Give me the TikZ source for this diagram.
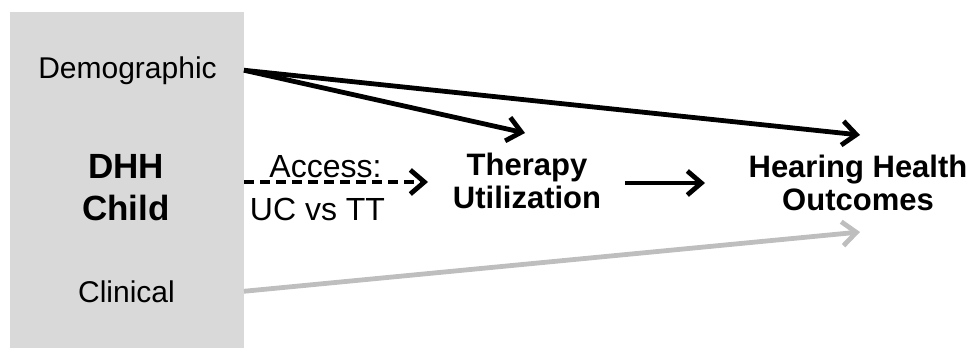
\documentclass[tikz,border=0pt]{standalone}
\usepackage{fontspec}
\setmainfont{Liberation Sans}
\usetikzlibrary{arrows.meta}
\usetikzlibrary{positioning}
\definecolor{boxgrey}{RGB}{217,217,217}
\definecolor{paleline}{RGB}{190,190,190}
\tikzstyle{base}=[inner sep=0pt, outer sep=0pt]
\tikzstyle{factor}=[font=\fontsize{15}{18}\selectfont, anchor=base]
\tikzstyle{route}=[font=\fontsize{16}{19}\selectfont, anchor=base]
\tikzstyle{core}=[font=\bfseries\fontsize{17.5}{21}\selectfont, align=center, anchor=base]
\tikzstyle{stage}=[font=\bfseries\fontsize{15.5}{16.5}\selectfont, align=center, anchor=base]
\tikzstyle{link}=[line width=2.4pt, -{Straight Barb[length=7pt,width=12pt,line width=2.4pt]}]

\begin{document}
\begin{tikzpicture}[base, x=0.5pt, y=-0.5pt]
    \useasboundingbox (0,0) rectangle (969,348);
        % child box and its factors
        \node [base, fill=boxgrey, minimum width=117pt, minimum height=168pt] (childbox) at (127,180) {};
        \node [factor] (demo) at (127.5,78) {Demographic};
        \node [core] (child) at (126,220) {DHH\\Child};
        \node [factor] (clin) at (126.5,302) {Clinical};
        % access label
        \node [route] (access) at (325.5,177) {Access:};
        \node [route] (ucvstt) at (317.5,220) {UC vs TT};
        % stages
        \node [stage] (therapy) at (527,208) {Therapy\\Utilization};
        \node [stage] (outcome) at (858,210) {Hearing Health\\Outcomes};
        % arrow ends
        \coordinate (gate) at (428,182);
        \coordinate (thtop) at (525,133);
        \coordinate (outtop) at (860,135);
        \coordinate (outbot) at (860,232);
        \coordinate (thout) at (625,183);
        \coordinate (outin) at (705,183);
        \draw [link] (childbox.east |- demo.center) -- (thtop);
        \draw [link] (childbox.east |- demo.center) -- (outtop);
        \draw [link, dash pattern=on 5pt off 3pt] (childbox.east |- gate) -- (gate);
        \draw [link] (thout) -- (outin);
        \draw [link, paleline] (childbox.east |- clin.center) -- (outbot);
\end{tikzpicture}
\end{document}
